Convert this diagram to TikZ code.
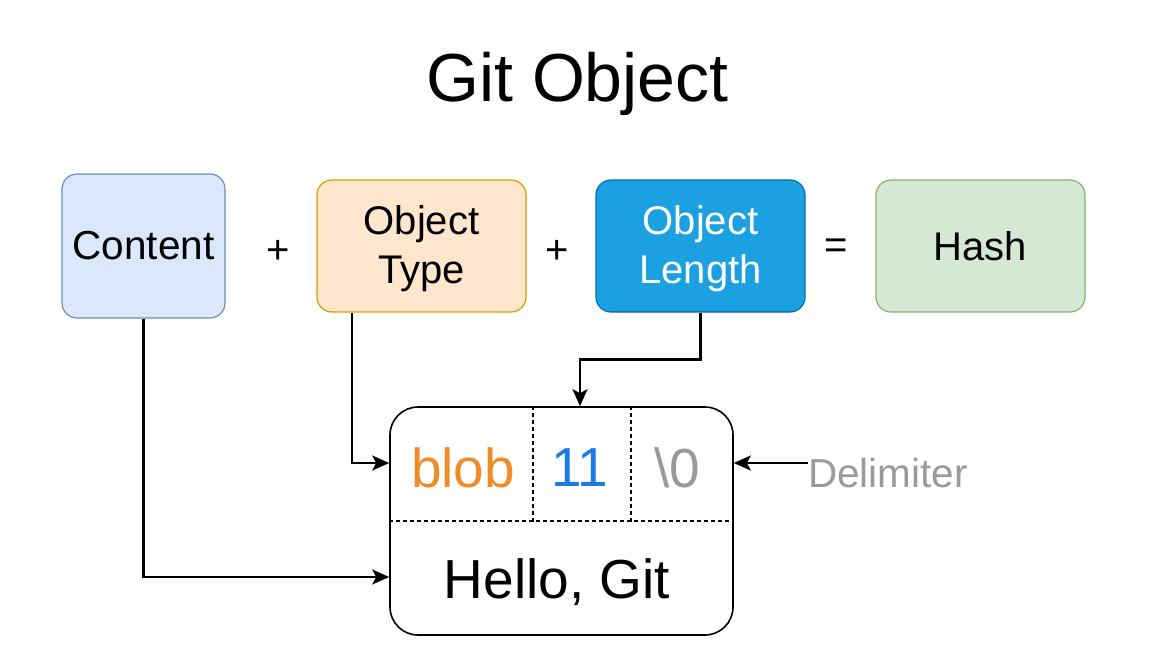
\documentclass[tikz,border=0pt]{standalone}
\usepackage{fontspec}
\setmainfont{Liberation Sans}
\usetikzlibrary{arrows.meta}
\definecolor{cfill}{HTML}{DAE8FC}\definecolor{cline}{HTML}{6C8EBF}
\definecolor{tfill}{HTML}{FFE6CC}\definecolor{tline}{HTML}{D79B00}
\definecolor{lfill}{HTML}{1BA1E2}\definecolor{lline}{HTML}{006EAF}
\definecolor{hfill}{HTML}{D5E8D4}\definecolor{hline}{HTML}{82B366}
\definecolor{blobc}{HTML}{F08C28}
\definecolor{numc}{HTML}{1C7AE8}
\definecolor{grayc}{HTML}{9A9A9A}
\begin{document}
\begin{tikzpicture}[x=1pt,y=-1pt,
  topbox/.style={draw, rounded corners=15pt, line width=1.2pt, align=center,
    font=\fontsize{40}{48}\selectfont, inner sep=0pt, minimum height=132pt, minimum width=209pt},
  lbl/.style={align=center, font=\fontsize{40}{49}\selectfont, inner sep=0pt},
  conn/.style={line width=2.6pt, -{Stealth[length=17pt,width=15pt,inset=4pt]}},
  op/.style={font=\fontsize{40}{47}\selectfont, inner sep=0pt},
  big/.style={font=\fontsize{55}{60}\selectfont, inner sep=0pt},
  sep/.style={line width=1.2pt, dash pattern=on 4pt off 3pt}]
\useasboundingbox (0,0) rectangle (1158,656);
\node[font=\fontsize{68}{80}\selectfont, inner sep=0pt, anchor=base] (title) at (577.5,101) {Git Object};
\node[topbox, fill=cfill, draw=cline, minimum width=163pt, minimum height=144pt, font=\fontsize{40.5}{48}\selectfont] (content) at (143.5,246) {Content};
\node[op] (plus1) at (278,252) {+};
\node[topbox, fill=tfill, draw=tline] (type) at (421.5,246) {};
\node[lbl] (typelbl) at (421.5,249) {Object\\Type};
\node[op] (plus2) at (557,252) {+};
\node[topbox, fill=lfill, draw=lline] (length) at (700.5,246) {};
\node[lbl, text=white] (lengthlbl) at (700.5,249) {Object\\Length};
\node[op] (eq) at (836,249) {=};
\node[topbox, fill=hfill, draw=hline] (hash) at (980.5,246) {Hash};
% object box
\node[draw, line width=1.6pt, rounded corners=28pt, minimum width=343pt, minimum height=228pt, inner sep=0pt] (obj) at (561.5,521) {};
\coordinate (hl) at (obj.west |- 0,521);
\coordinate (hr) at (obj.east |- 0,521);
\draw[sep] (hl) -- (hr);
\draw[sep] (obj.north -| 533,0) -- (533,523);
\draw[sep] (obj.north -| 631,0) -- (631,523);
\node[big, text=blobc] (blob) at (463,468) {blob};
\node[big, text=numc] (num) at (580,468) {11};
\node[big, text=grayc] (delimc) at (677,468) {\textbackslash 0};
\node[big] (hello) at (557,582) {Hello, Git};
\node[font=\fontsize{40.5}{47}\selectfont, text=grayc, inner sep=0pt, anchor=west] (delim) at (808,473) {Delimiter};
% connectors
\draw[conn] (content.south) |- (obj.west |- 0,577);
\draw[conn] ([xshift=-69.5pt]type.south) |- (obj.west |- 0,463);
\draw[conn] (length.south) -- ++(0,47) -| (obj.north -| num);
\coordinate (dl) at ([yshift=10pt]delim.west);
\draw[conn] (dl) -- (obj.east |- dl);
\end{tikzpicture}
\end{document}
